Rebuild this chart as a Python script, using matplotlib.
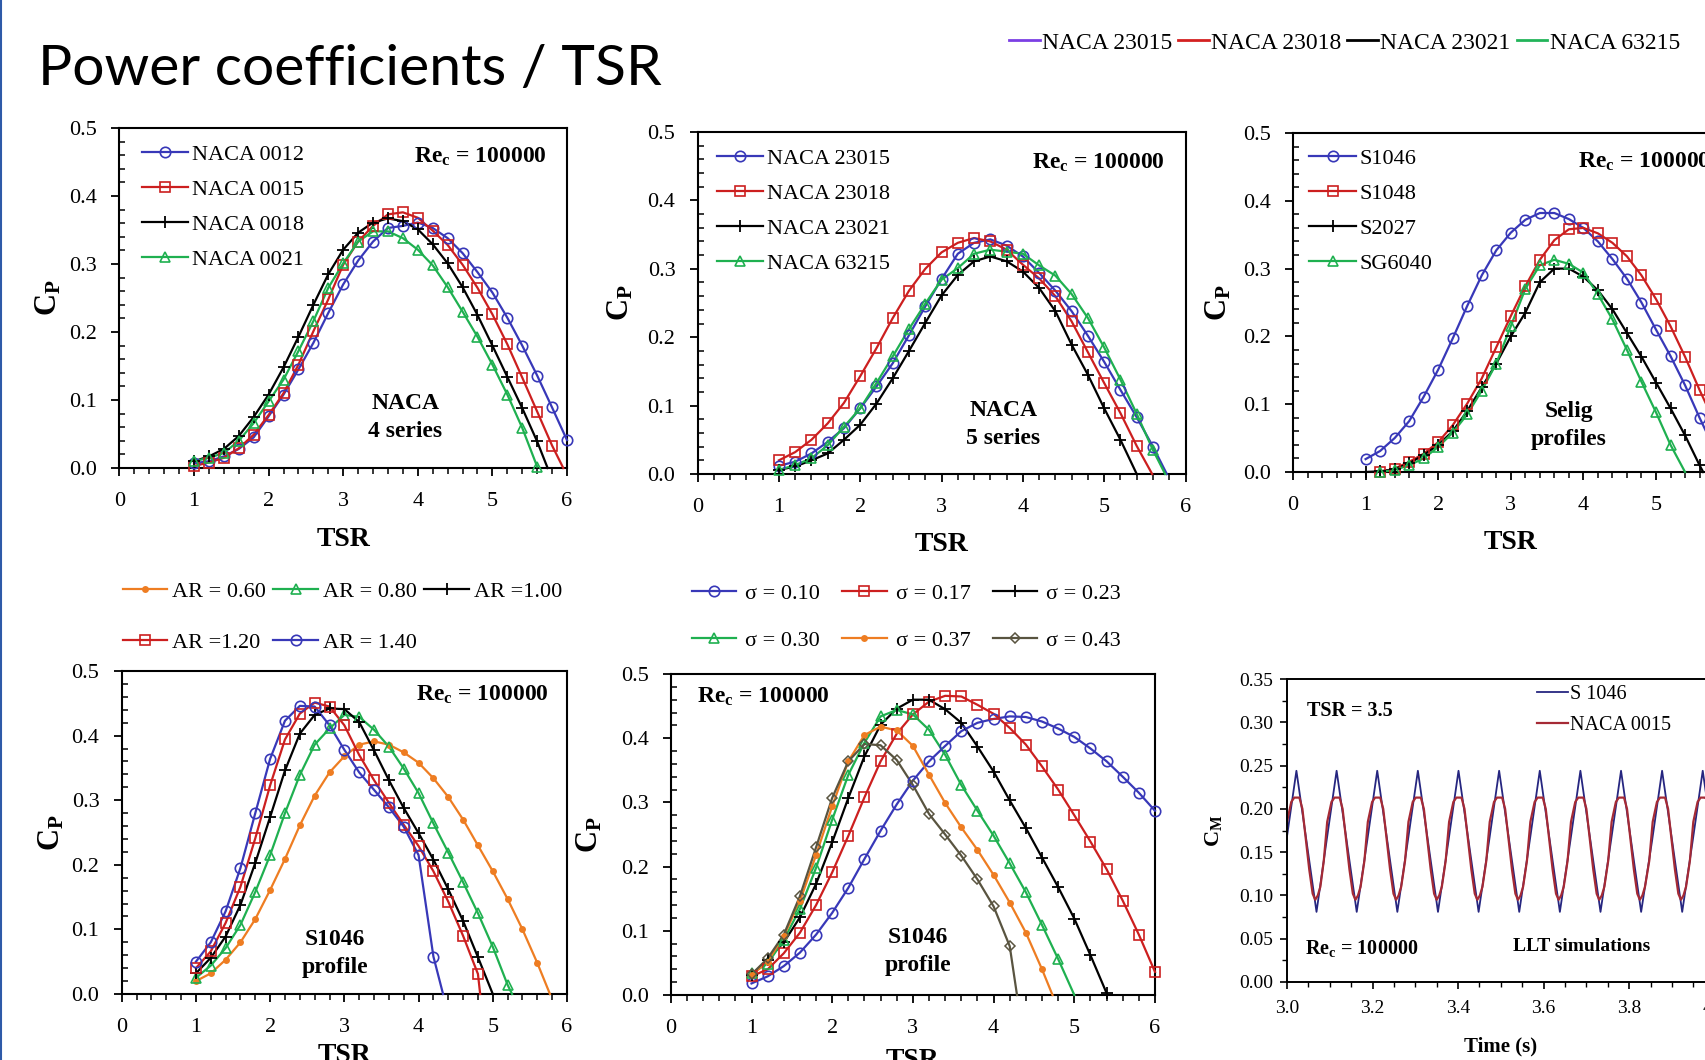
import matplotlib
matplotlib.use('Agg')
import matplotlib.pyplot as plt
from matplotlib.lines import Line2D
from matplotlib.ticker import MultipleLocator, FormatStrFormatter

W, H = 1705, 1060

plt.rcParams['font.family'] = ['Liberation Serif', 'DejaVu Serif']
plt.rcParams['mathtext.fontset'] = 'custom'
plt.rcParams['mathtext.rm'] = 'Liberation Serif'
plt.rcParams['mathtext.it'] = 'Liberation Serif:italic'
plt.rcParams['mathtext.bf'] = 'Liberation Serif:bold'

# ---- data ----
tsr = [1.0, 1.2, 1.4, 1.6, 1.8, 2.0, 2.2, 2.4, 2.6, 2.8, 3.0, 3.2, 3.4,
       3.6, 3.8, 4.0, 4.2, 4.4, 4.6, 4.8, 5.0, 5.2, 5.4, 5.6, 5.8, 6.0]

# NACA 4 series
cp_naca0012 = [0.007, 0.010, 0.017, 0.028, 0.045, 0.076, 0.108, 0.145, 0.184, 0.228, 0.270, 0.305, 0.333,
               0.353, 0.356, 0.361, 0.353, 0.338, 0.316, 0.288, 0.258, 0.221, 0.180, 0.136, 0.089, 0.041]
cp_naca0015 = [0.003, 0.008, 0.015, 0.029, 0.049, 0.078, 0.110, 0.152, 0.201, 0.248, 0.299, 0.333, 0.356,
               0.373, 0.376, 0.368, 0.349, 0.328, 0.299, 0.265, 0.226, 0.182, 0.133, 0.083, 0.033]
cp_naca0018 = [0.010, 0.017, 0.028, 0.047, 0.075, 0.108, 0.148, 0.193, 0.240, 0.285, 0.321, 0.346, 0.361,
               0.367, 0.363, 0.351, 0.329, 0.301, 0.266, 0.225, 0.180, 0.134, 0.088, 0.039]
cp_naca0021 = [0.010, 0.015, 0.022, 0.040, 0.066, 0.098, 0.130, 0.172, 0.216, 0.265, 0.301, 0.333, 0.348,
               0.348, 0.338, 0.321, 0.298, 0.266, 0.230, 0.193, 0.152, 0.108, 0.059, 0.002]

# NACA 5 series
cp_naca23015 = [0.012, 0.018, 0.030, 0.047, 0.067, 0.096, 0.128, 0.162, 0.203, 0.245, 0.285, 0.322, 0.338,
                0.343, 0.334, 0.318, 0.294, 0.268, 0.238, 0.202, 0.164, 0.123, 0.083, 0.040]
cp_naca23018 = [0.020, 0.032, 0.050, 0.074, 0.104, 0.143, 0.184, 0.228, 0.268, 0.300, 0.324, 0.338, 0.345,
                0.340, 0.328, 0.306, 0.286, 0.260, 0.223, 0.178, 0.133, 0.089, 0.041]
cp_naca23021 = [0.006, 0.011, 0.020, 0.030, 0.050, 0.072, 0.103, 0.140, 0.180, 0.221, 0.261, 0.291, 0.311,
                0.318, 0.311, 0.296, 0.272, 0.238, 0.189, 0.145, 0.096, 0.050]
cp_naca63215 = [0.006, 0.013, 0.023, 0.042, 0.069, 0.096, 0.133, 0.172, 0.212, 0.249, 0.284, 0.301, 0.322,
                0.328, 0.325, 0.322, 0.305, 0.290, 0.263, 0.228, 0.185, 0.138, 0.088, 0.035]

# Selig profiles
cp_s1046 = [0.019, 0.031, 0.050, 0.075, 0.111, 0.151, 0.197, 0.245, 0.290, 0.327, 0.353, 0.372, 0.382,
            0.382, 0.373, 0.360, 0.340, 0.314, 0.285, 0.250, 0.210, 0.171, 0.128, 0.080, 0.035]
cp_s1048 = [0.000, 0.005, 0.015, 0.027, 0.044, 0.069, 0.101, 0.138, 0.184, 0.230, 0.274, 0.313,
            0.342, 0.358, 0.360, 0.352, 0.338, 0.318, 0.290, 0.255, 0.215, 0.170, 0.121, 0.075, 0.030]
cp_s2027 = [0.000, 0.001, 0.004, 0.013, 0.025, 0.040, 0.060, 0.090, 0.125, 0.160, 0.200, 0.235, 0.280,
            0.300, 0.300, 0.288, 0.268, 0.240, 0.205, 0.170, 0.132, 0.094, 0.054, 0.010]
cp_sg6040 = [0.000, 0.003, 0.010, 0.020, 0.037, 0.058, 0.085, 0.120, 0.160, 0.215, 0.270, 0.305,
             0.313, 0.307, 0.294, 0.262, 0.225, 0.180, 0.133, 0.088, 0.040]

# aspect ratio, S1046
cp_ar060 = [0.020, 0.032, 0.053, 0.080, 0.116, 0.161, 0.209, 0.261, 0.307, 0.343, 0.368, 0.386, 0.391,
            0.386, 0.374, 0.358, 0.334, 0.305, 0.270, 0.230, 0.190, 0.147, 0.100, 0.048]
cp_ar080 = [0.025, 0.044, 0.071, 0.107, 0.158, 0.215, 0.280, 0.339, 0.386, 0.411, 0.432, 0.429, 0.409,
            0.383, 0.349, 0.311, 0.264, 0.219, 0.173, 0.125, 0.073, 0.014]
cp_ar100 = [0.032, 0.056, 0.089, 0.138, 0.203, 0.274, 0.346, 0.403, 0.432, 0.442, 0.441, 0.421, 0.377,
            0.331, 0.288, 0.249, 0.208, 0.162, 0.113, 0.057]
cp_ar120 = [0.040, 0.066, 0.110, 0.166, 0.241, 0.323, 0.394, 0.434, 0.451, 0.445, 0.416, 0.370, 0.331,
            0.296, 0.262, 0.229, 0.190, 0.143, 0.090, 0.031]
cp_ar140 = [0.050, 0.080, 0.128, 0.195, 0.280, 0.364, 0.423, 0.446, 0.445, 0.416, 0.378, 0.343, 0.316,
            0.289, 0.259, 0.215, 0.058]

# solidity, S1046
cp_sig010 = [0.018, 0.029, 0.045, 0.066, 0.094, 0.128, 0.167, 0.212, 0.256, 0.297, 0.334, 0.364, 0.388,
             0.411, 0.424, 0.430, 0.434, 0.433, 0.426, 0.415, 0.402, 0.384, 0.364, 0.340, 0.315, 0.287]
cp_sig017 = [0.029, 0.040, 0.065, 0.097, 0.140, 0.191, 0.248, 0.308, 0.364, 0.407, 0.437, 0.457, 0.466,
             0.465, 0.452, 0.438, 0.416, 0.390, 0.356, 0.320, 0.280, 0.239, 0.196, 0.147, 0.094, 0.036]
cp_sig023 = [0.031, 0.055, 0.082, 0.121, 0.173, 0.238, 0.307, 0.372, 0.421, 0.446, 0.460, 0.460, 0.445,
             0.424, 0.387, 0.348, 0.303, 0.260, 0.214, 0.168, 0.119, 0.062, 0.003]
cp_sig030 = [0.034, 0.049, 0.086, 0.134, 0.198, 0.273, 0.343, 0.393, 0.434, 0.444, 0.437, 0.413, 0.374,
             0.327, 0.287, 0.248, 0.205, 0.160, 0.109, 0.056]
cp_sig037 = [0.031, 0.052, 0.092, 0.146, 0.218, 0.294, 0.364, 0.405, 0.418, 0.412, 0.388, 0.343, 0.299,
             0.261, 0.226, 0.187, 0.144, 0.097, 0.040]
cp_sig043 = [0.032, 0.057, 0.094, 0.154, 0.230, 0.307, 0.364, 0.391, 0.389, 0.366, 0.327, 0.282, 0.250,
             0.217, 0.180, 0.138, 0.076]

# moment coefficient vs time (TSR 3.5): peak times and one cycle shape around each peak
cm_peak_time = [3.022, 3.116, 3.211, 3.306, 3.401, 3.496, 3.591, 3.686, 3.781, 3.877, 3.972]
s1046_offset = [-0.0235, 0.0, 0.0235, 0.047]
s1046_cm = [0.163, 0.244, 0.163, 0.081]
naca0015_offset = [-0.030, -0.022, -0.012, -0.005, 0.007, 0.014, 0.030, 0.038, 0.044, 0.050, 0.056]
naca0015_cm = [0.140, 0.185, 0.208, 0.213, 0.213, 0.200, 0.130, 0.102, 0.095, 0.100, 0.110]

BLUE = '#3838b8'
RED = '#cc1f1f'
BLACK = '#000000'
GREEN = '#1fb050'
ORANGE = '#ee7d22'
OLIVE = '#595440'

CIRCLE = dict(marker='o', mfc='none', ms=7.5, mew=1.2)
SQUARE = dict(marker='s', mfc='none', ms=6.5, mew=1.2)
PLUS = dict(marker='+', ms=8.5, mew=1.3)
TRIANGLE = dict(marker='^', mfc='none', ms=7, mew=1.2)
DOT = dict(marker='o', ms=5, mew=0)
DIAMOND = dict(marker='D', mfc='none', ms=5, mew=1.1)


def px(x, y):
    return (x / W, 1 - y / H)


def px_box(x0, x1, ytop, ybot):
    return [x0 / W, 1 - ybot / H, (x1 - x0) / W, (ybot - ytop) / H]


def draw_series(ax, y, end, color, style, start=1.0):
    i0 = tsr.index(start)
    xs = tsr[i0:i0 + len(y)]
    lx = xs + ([end] if end is not None else [])
    ly = y + ([0.0] if end is not None else [])
    ax.plot(lx, ly, color=color, lw=1.6, clip_on=False, zorder=3)
    ax.plot(xs, y, ls='none', color=color, mec=color, clip_on=False, zorder=4, **style)
    return Line2D([], [], color=color, mec=color, lw=1.6, **style)


def setup_cp(ax, xlab_y, ylab_x):
    ax.set_xlim(0, 6)
    ax.set_ylim(0, 0.5)
    ax.xaxis.set_major_locator(MultipleLocator(1))
    ax.xaxis.set_minor_locator(MultipleLocator(0.2))
    ax.yaxis.set_major_locator(MultipleLocator(0.1))
    ax.yaxis.set_minor_locator(MultipleLocator(0.02))
    ax.yaxis.set_major_formatter(FormatStrFormatter('%.1f'))
    ax.tick_params(which='major', direction='out', length=6, width=1.3, labelsize=16)
    ax.tick_params(axis='x', which='major', pad=11)
    ax.tick_params(axis='y', which='major', pad=10)
    ax.tick_params(axis='x', which='minor', direction='out', length=4, width=1.1)
    ax.tick_params(axis='y', which='minor', direction='in', length=4, width=1.1)
    for s in ax.spines.values():
        s.set_linewidth(1.5)
    ax.set_xlabel('TSR', fontsize=20, fontweight='bold')
    ax.set_ylabel(r'$\mathbf{C_P}$', fontsize=22)
    ax.xaxis.set_label_coords(0.5, xlab_y)
    ax.yaxis.set_label_coords(ylab_x, 0.5)


def re_label(ax, x, y, ha):
    ax.text(x, y, r'Re$_\mathbf{c}$ = 100000', fontsize=17, fontweight='bold', ha=ha, va='center')


def note(ax, x, y, s):
    ax.text(x, y, s, fontsize=17, fontweight='bold', ha='center', va='center', linespacing=1.45)


def inner_legend(ax, handles, labels, anchor):
    ax.legend(handles, labels, loc='upper left', bbox_to_anchor=px(*anchor),
              bbox_transform=fig.transFigure, frameon=False, fontsize=16,
              handlelength=2.1, handletextpad=0.15, labelspacing=0.65,
              borderpad=0, borderaxespad=0)


fig = plt.figure(figsize=(W / 100, H / 100), dpi=100)

# slide frame line on the left
fig.add_artist(Line2D([0.0008, 0.0008], [0, 1], transform=fig.transFigure, color='#2e5aa8', lw=1.5))

fig.text(38 / W, 1 - 85 / H, 'Power coefficients / TSR', fontsize=41, family='Lato', va='baseline')

# top legend (NACA 5 series colours)
top_handles = [Line2D([], [], color=c, lw=2) for c in ['#7b3fe4', '#d42020', BLACK, '#22b45a']]
fig.legend(top_handles, ['NACA 23015', 'NACA 23018', 'NACA 23021', 'NACA 63215'],
           loc='upper left', bbox_to_anchor=px(1009, 32), ncol=4, fontsize=17,
           handlelength=1.3, handletextpad=0.1, columnspacing=0.25, frameon=False,
           borderpad=0, borderaxespad=0)

# ---- panel 1: NACA 4 series ----
ax1 = fig.add_axes(px_box(119.4, 567, 128, 468))
setup_cp(ax1, -0.174, -0.125)
h = [draw_series(ax1, cp_naca0012, None, BLUE, CIRCLE),
     draw_series(ax1, cp_naca0015, 5.95, RED, SQUARE),
     draw_series(ax1, cp_naca0018, 5.74, BLACK, PLUS),
     draw_series(ax1, cp_naca0021, None, GREEN, TRIANGLE)]
inner_legend(ax1, h, ['NACA 0012', 'NACA 0015', 'NACA 0018', 'NACA 0021'], (141.6, 144))
re_label(ax1, 5.73, 0.458, 'right')
note(ax1, 3.83, 0.074, 'NACA\n4 series')

# ---- panel 2: NACA 5 series ----
ax2 = fig.add_axes(px_box(697.6, 1185.5, 132, 474))
setup_cp(ax2, -0.17, -0.127)
h = [draw_series(ax2, cp_naca23015, 5.77, BLUE, CIRCLE),
     draw_series(ax2, cp_naca23018, 5.59, RED, SQUARE),
     draw_series(ax2, cp_naca23021, 5.40, BLACK, PLUS),
     draw_series(ax2, cp_naca63215, 5.75, GREEN, TRIANGLE)]
inner_legend(ax2, h, ['NACA 23015', 'NACA 23018', 'NACA 23021', 'NACA 63215'], (716.7, 148))
re_label(ax2, 5.74, 0.455, 'right')
note(ax2, 3.76, 0.072, 'NACA\n5 series')

# ---- panel 3: Selig profiles (cut by the slide edge) ----
ax3 = fig.add_axes(px_box(1293, 1728.6, 133, 472))
setup_cp(ax3, -0.171, -0.137)
h = [draw_series(ax3, cp_s1046, 5.95, BLUE, CIRCLE),
     draw_series(ax3, cp_s1048, None, RED, SQUARE, start=1.2),
     draw_series(ax3, cp_s2027, 5.65, BLACK, PLUS),
     draw_series(ax3, cp_sg6040, 5.40, GREEN, TRIANGLE, start=1.2)]
inner_legend(ax3, h, ['S1046', 'S1048', 'S2027', 'SG6040'], (1309.3, 148))
re_label(ax3, 3.92, 0.458, 'left')
note(ax3, 3.8, 0.069, 'Selig\nprofiles')

# ---- panel 4: aspect ratio ----
ax4 = fig.add_axes(px_box(121.7, 567, 671, 994))
setup_cp(ax4, -0.152, -0.123)
h060 = draw_series(ax4, cp_ar060, 5.77, ORANGE, DOT)
h080 = draw_series(ax4, cp_ar080, 5.26, GREEN, TRIANGLE)
h100 = draw_series(ax4, cp_ar100, 5.00, BLACK, PLUS)
h120 = draw_series(ax4, cp_ar120, 4.83, RED, SQUARE)
h140 = draw_series(ax4, cp_ar140, 4.33, BLUE, CIRCLE)
ax4.legend([h060, h120, h080, h140, h100],
           ['AR = 0.60', 'AR =1.20', 'AR = 0.80', 'AR = 1.40', 'AR =1.00'],
           loc='upper left', bbox_to_anchor=px(122.5, 581), bbox_transform=fig.transFigure,
           ncol=3, frameon=False, fontsize=16, handlelength=2.0, handletextpad=0.25,
           columnspacing=0.32, labelspacing=1.4, borderpad=0, borderaxespad=0)
re_label(ax4, 5.76, 0.463, 'right')
note(ax4, 2.87, 0.063, 'S1046\nprofile')

# ---- panel 5: solidity ----
ax5 = fig.add_axes(px_box(670.8, 1155, 674, 995))
setup_cp(ax5, -0.165, -0.136)
g010 = draw_series(ax5, cp_sig010, None, BLUE, CIRCLE)
g017 = draw_series(ax5, cp_sig017, None, RED, SQUARE)
g023 = draw_series(ax5, cp_sig023, None, BLACK, PLUS)
g030 = draw_series(ax5, cp_sig030, 5.00, GREEN, TRIANGLE)
g037 = draw_series(ax5, cp_sig037, 4.73, ORANGE, DOT)
g043 = draw_series(ax5, cp_sig043, 4.29, OLIVE, DIAMOND)
ax5.legend([g010, g030, g017, g037, g023, g043],
           ['σ = 0.10', 'σ = 0.30', 'σ = 0.17', 'σ = 0.37', 'σ = 0.23', 'σ = 0.43'],
           loc='upper left', bbox_to_anchor=px(691.8, 583), bbox_transform=fig.transFigure,
           ncol=3, frameon=False, fontsize=16, handlelength=2.0, handletextpad=0.4,
           columnspacing=1.0, labelspacing=1.2, borderpad=0, borderaxespad=0)
re_label(ax5, 0.33, 0.465, 'left')
note(ax5, 3.06, 0.068, 'S1046\nprofile')

# ---- panel 6: CM vs time ----
ax6 = fig.add_axes(px_box(1287, 1714.7, 679, 982))
t_blue, cm_blue, t_red, cm_red = [], [], [], []
for tp in cm_peak_time:
    t_blue += [tp + o for o in s1046_offset]
    cm_blue += s1046_cm
    t_red += [tp + o for o in naca0015_offset]
    cm_red += naca0015_cm
ax6.plot(t_blue, cm_blue, color='#262680', lw=1.3, label='S 1046')
ax6.plot(t_red, cm_red, color='#a52a35', lw=1.6, label='NACA 0015')
ax6.set_xlim(3.0, 4.0)
ax6.set_ylim(0, 0.35)
ax6.xaxis.set_major_locator(MultipleLocator(0.2))
ax6.xaxis.set_minor_locator(MultipleLocator(0.05))
ax6.yaxis.set_major_locator(MultipleLocator(0.05))
ax6.yaxis.set_minor_locator(MultipleLocator(0.025))
ax6.xaxis.set_major_formatter(FormatStrFormatter('%.1f'))
ax6.yaxis.set_major_formatter(FormatStrFormatter('%.2f'))
ax6.tick_params(which='major', direction='out', length=5, width=1.2, labelsize=14, pad=5)
ax6.tick_params(axis='x', which='major', pad=8)
ax6.tick_params(which='minor', direction='out', length=3.5, width=1.0)
for s in ax6.spines.values():
    s.set_linewidth(1.4)
ax6.set_xlabel('Time (s)', fontsize=15, fontweight='bold')
ax6.set_ylabel(r'$\mathbf{C_M}$', fontsize=16)
ax6.xaxis.set_label_coords(0.5, -0.18)
ax6.yaxis.set_label_coords(-0.148, 0.5)
ax6.legend(loc='upper left', bbox_to_anchor=px(1536.7, 685), bbox_transform=fig.transFigure,
           frameon=False, fontsize=14.5, handlelength=1.55, handletextpad=0.1,
           labelspacing=0.6, borderpad=0, borderaxespad=0)
ax6.text(0.046, 0.895, 'TSR = 3.5', transform=ax6.transAxes, fontsize=14.5,
         fontweight='bold', va='center')
ax6.text(0.042, 0.112, r'Re$_\mathbf{c}$ = 100000', transform=ax6.transAxes, fontsize=14.5,
         fontweight='bold', va='center')
ax6.text(0.528, 0.117, 'LLT simulations', transform=ax6.transAxes, fontsize=14,
         fontweight='bold', va='center')

fig.savefig('out.png', dpi=100)
